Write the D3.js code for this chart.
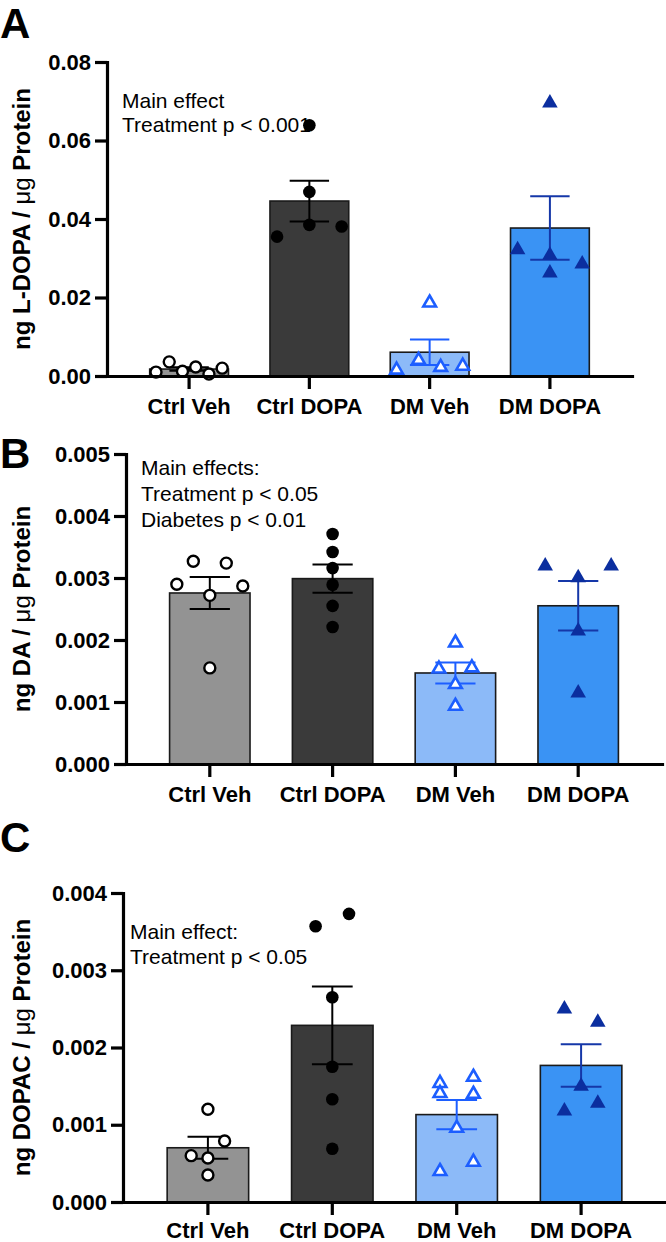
<!DOCTYPE html>
<html><head><meta charset="utf-8">
<script src="https://cdn.jsdelivr.net/npm/d3@7"></script>
<style>
html,body{margin:0;padding:0;background:#fff;}
svg{display:block;}
text{font-family:"Liberation Sans",Arial,Helvetica,sans-serif;}
</style></head><body>
<svg id="chart" width="666" height="1242"></svg>
<script>
// ---------------- DATA ----------------
const categories = ["Ctrl Veh", "Ctrl DOPA", "DM Veh", "DM DOPA"];

// Panel A: ng L-DOPA / µg Protein (individual animals)
const ldopaCtrlVeh  = [0.0010, 0.0036, 0.0012, 0.0023, 0.0005, 0.0020];
const ldopaCtrlDopa = [0.0639, 0.0469, 0.0355, 0.0385, 0.0381];
const ldopaDmVeh    = [0.0189, 0.0018, 0.0043, 0.0025, 0.0028];
const ldopaDmDopa   = [0.0698, 0.0324, 0.0310, 0.0288, 0.0265];

// Panel B: ng DA / µg Protein
const daCtrlVeh  = [0.00327, 0.00324, 0.00290, 0.00272, 0.00287, 0.00155];
const daCtrlDopa = [0.00371, 0.00342, 0.00316, 0.00289, 0.00255, 0.00221];
const daDmVeh    = [0.00197, 0.00155, 0.00157, 0.00130, 0.00095];
const daDmDopa   = [0.00321, 0.00302, 0.00321, 0.00216, 0.00116];

// Panel C: ng DOPAC / µg Protein
const dopacCtrlVeh  = [0.00120, 0.00060, 0.00079, 0.00057, 0.00035];
const dopacCtrlDopa = [0.00357, 0.00373, 0.00265, 0.00175, 0.00133, 0.00069];
const dopacDmVeh    = [0.00155, 0.00142, 0.00163, 0.00141, 0.00097, 0.00041, 0.00053];
const dopacDmDopa   = [0.00251, 0.00234, 0.00151, 0.00119, 0.00129];

// Tick values
const ldopaTicks = [0, 0.02, 0.04, 0.06, 0.08];
const daTicks    = [0, 0.001, 0.002, 0.003, 0.004, 0.005];
const dopacTicks = [0, 0.001, 0.002, 0.003, 0.004];

// Annotation text
const ldopaNotes = ["Main effect", "Treatment p < 0.001"];
const daNotes    = ["Main effects:", "Treatment p < 0.05", "Diabetes p < 0.01"];
const dopacNotes = ["Main effect:", "Treatment p < 0.05"];

// ---------------- STYLES ----------------
const groupStyles = [
  {fill: "#939393", symbol: "circle",   open: true,  color: "#000000", err: "#000000"},
  {fill: "#3a3a3a", symbol: "circle",   open: false, color: "#000000", err: "#000000"},
  {fill: "#8cbaf8", symbol: "triangle", open: true,  color: "#1c5eff", err: "#1c5eff"},
  {fill: "#3a93f4", symbol: "triangle", open: false, color: "#0b2e9f", err: "#1537a8"}
];

const panels = [
  {letter: "A", letterY: 38, titleMain: "ng L-DOPA / ", data: [ldopaCtrlVeh, ldopaCtrlDopa, ldopaDmVeh, ldopaDmDopa],
   ticks: ldopaTicks, fmt: ".2f", notes: ldopaNotes, labelPad: 9,
   axisX: 107, xEnd: 632, yTop: 62, yBottom: 376, noteX: 122, noteY: 108, noteDy: 24},
  {letter: "B", letterY: 468, titleMain: "ng DA / ", data: [daCtrlVeh, daCtrlDopa, daDmVeh, daDmDopa],
   ticks: daTicks, fmt: ".3f", notes: daNotes, labelPad: 9,
   axisX: 126, xEnd: 662, yTop: 454, yBottom: 764, noteX: 141, noteY: 475, noteDy: 26},
  {letter: "C", letterY: 852, titleMain: "ng DOPAC / ", data: [dopacCtrlVeh, dopacCtrlDopa, dopacDmVeh, dopacDmDopa],
   ticks: dopacTicks, fmt: ".3f", notes: dopacNotes, labelPad: 7,
   axisX: 123, xEnd: 666, yTop: 893, yBottom: 1202, noteX: 130, noteY: 939, noteDy: 25}
];

const svg = d3.select("#chart");

function layoutPoints(values, y, bw) {
  const pts = values.map((v, i) => ({v, i, py: y(v), dx: 0}));
  const sorted = pts.slice().sort((a, b) => a.py - b.py);
  const rows = [];
  let cur = null;
  for (const p of sorted) {
    if (cur && p.py - cur[0].py < 15) cur.push(p);
    else { cur = [p]; rows.push(cur); }
  }
  const step = 0.41 * bw, span = 0.84 * bw;
  rows.forEach(r => {
    r.sort((a, b) => a.i - b.i);
    const k = r.length;
    const s = k > 1 ? Math.min(step, span / (k - 1)) : 0;
    r.forEach((p, j) => { p.dx = (j - (k - 1) / 2) * s; });
  });
  return pts;
}

panels.forEach(P => {
  const g = svg.append("g");
  const x = d3.scaleBand().domain(categories).range([P.axisX, P.xEnd])
    .paddingInner(0.345).paddingOuter(0.355);
  const y = d3.scaleLinear().domain([P.ticks[0], P.ticks[P.ticks.length - 1]])
    .range([P.yBottom, P.yTop]);
  const bw = x.bandwidth();

  // panel letter
  g.append("text").attr("x", 0).attr("y", P.letterY)
    .attr("font-size", 42).attr("font-weight", "bold").text(P.letter);

  // y title
  const cy = (P.yTop + P.yBottom) / 2;
  const t = g.append("text").attr("transform", `translate(30,${cy}) rotate(-90)`)
    .attr("text-anchor", "middle").attr("font-size", 24).attr("font-weight", "bold");
  t.append("tspan").text(P.titleMain);
  t.append("tspan").attr("font-weight", "normal").text("\u03BCg");
  t.append("tspan").text(" Protein");

  // bars
  const stats = P.data.map(vals => {
    const m = d3.mean(vals);
    const sem = d3.deviation(vals) / Math.sqrt(vals.length);
    return {m, sem};
  });
  categories.forEach((c, i) => {
    const st = groupStyles[i];
    g.append("rect").attr("x", x(c)).attr("y", y(stats[i].m))
      .attr("width", bw).attr("height", y(0) - y(stats[i].m))
      .attr("fill", st.fill).attr("stroke", "#1a1a1a").attr("stroke-width", 1.6);
  });

  // error bars
  categories.forEach((c, i) => {
    const st = groupStyles[i];
    const cx = x(c) + bw / 2;
    const lo = y(stats[i].m - stats[i].sem), hi = y(stats[i].m + stats[i].sem);
    const e = g.append("g").attr("stroke", st.err).attr("stroke-width", 2);
    e.append("line").attr("x1", cx).attr("x2", cx).attr("y1", lo).attr("y2", hi);
    [lo, hi].forEach(yy => e.append("line").attr("x1", cx - bw * 0.25).attr("x2", cx + bw * 0.25)
      .attr("y1", yy).attr("y2", yy));
  });

  // points
  categories.forEach((c, i) => {
    const st = groupStyles[i];
    const cx = x(c) + bw / 2;
    const pts = layoutPoints(P.data[i], y, bw);
    pts.forEach(p => {
      if (st.symbol === "circle") {
        g.append("circle").attr("cx", cx + p.dx).attr("cy", p.py)
          .attr("r", st.open ? 5.5 : 6.3)
          .attr("fill", st.open ? "#ffffff" : st.color)
          .attr("stroke", st.color).attr("stroke-width", st.open ? 2.4 : 0);
      } else {
        const sym = d3.symbol().type(d3.symbolTriangle).size(st.open ? 70 : 105);
        g.append("path").attr("d", sym())
          .attr("transform", `translate(${cx + p.dx},${p.py + 1})`)
          .attr("fill", st.open ? "#ffffff" : st.color)
          .attr("stroke", st.color).attr("stroke-width", st.open ? 2.6 : 0)
          .attr("stroke-linejoin", "miter");
      }
    });
  });

  // axes
  const ya = g.append("g").attr("transform", `translate(${P.axisX},0)`)
    .call(d3.axisLeft(y).tickValues(P.ticks).tickFormat(d3.format(P.fmt))
      .tickSize(12).tickSizeOuter(0).tickPadding(4));
  const xa = g.append("g").attr("transform", `translate(0,${P.yBottom})`)
    .call(d3.axisBottom(x).tickSize(13).tickSizeOuter(0).tickPadding(P.labelPad));
  [ya, xa].forEach(a => {
    a.attr("font-family", null).attr("font-size", null);
    a.select(".domain").attr("stroke", "#000").attr("stroke-width", 3.2).attr("stroke-linecap", "square");
    a.selectAll(".tick line").attr("stroke", "#000").attr("stroke-width", 3.2);
    a.selectAll(".tick text").attr("fill", "#000").attr("font-weight", "bold").attr("font-size", 22);
  });

  // notes
  P.notes.forEach((n, k) => {
    g.append("text").attr("x", P.noteX).attr("y", P.noteY + k * P.noteDy)
      .attr("font-size", 21).text(n);
  });
});
</script>
</body></html>
